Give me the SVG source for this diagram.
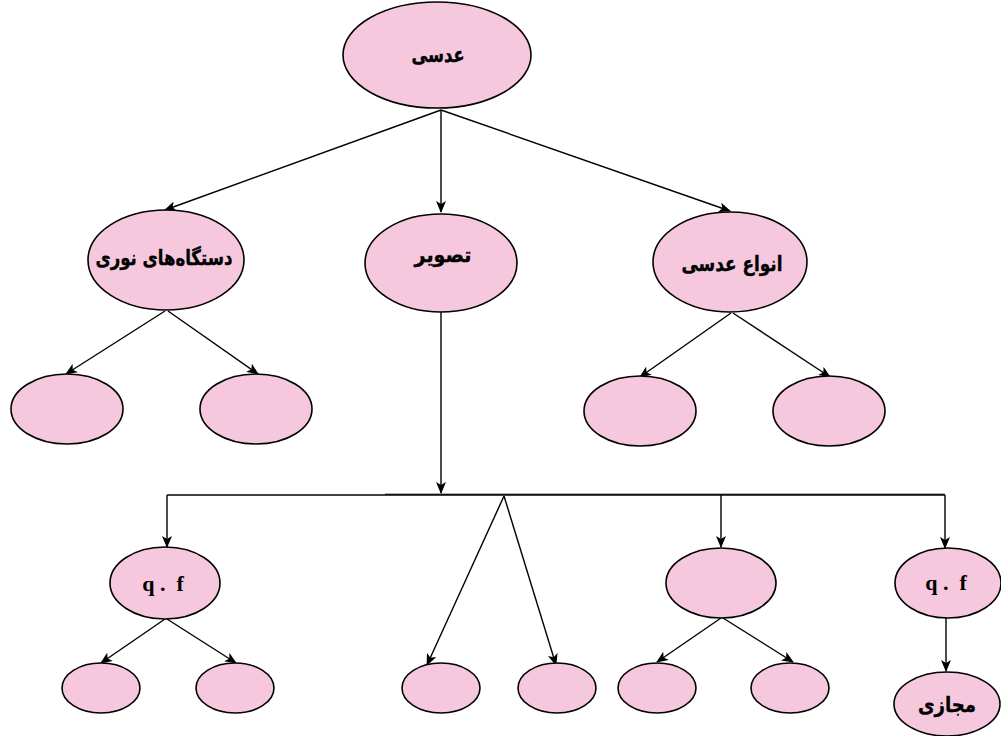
<svg xmlns="http://www.w3.org/2000/svg" width="1001" height="736" viewBox="0 0 1001 736">
  <defs>
    <marker id="arrow" viewBox="0 0 12 10" refX="11" refY="5" markerWidth="12" markerHeight="10" markerUnits="userSpaceOnUse" orient="auto">
      <path d="M0,0 L12,5 L0,10 L3,5 Z" fill="#000"/>
    </marker>
    <style>
      .node ellipse { fill: #f6c8dd; stroke: #000; stroke-width: 1.6; }
      .fa { font-family: "DejaVu Sans", sans-serif; font-weight: bold; font-size: 21px; fill: #000; text-anchor: middle; dominant-baseline: central; stroke: #000; stroke-width: 0.4; }
      .lat { font-family: "Liberation Serif", serif; font-weight: bold; font-size: 22px; fill: #000; text-anchor: middle; dominant-baseline: central; }
      .edges line { stroke: #000; stroke-width: 1.4; fill: none; }
      .arr { marker-end: url(#arrow); }
    </style>
  </defs>

  <rect width="1001" height="736" fill="#fff"/>

  <!-- connectors -->
  <g class="edges">
    <line class="arr" x1="441" y1="110" x2="165" y2="210"/>
    <line class="arr" x1="441" y1="110" x2="441" y2="212"/>
    <line class="arr" x1="441" y1="110" x2="730" y2="211"/>

    <line class="arr" x1="165" y1="311" x2="66" y2="374"/>
    <line class="arr" x1="168" y1="311" x2="258" y2="374"/>

    <line class="arr" x1="731" y1="313" x2="640" y2="377"/>
    <line class="arr" x1="733" y1="313" x2="830" y2="377"/>

    <line class="arr" x1="441" y1="312" x2="441" y2="493"/>
    <line x1="167" y1="495" x2="945" y2="495"/>
    <line x1="385" y1="494.2" x2="945" y2="494.2" style="stroke-width:1"/>

    <line class="arr" x1="167" y1="495" x2="167" y2="547"/>
    <line class="arr" x1="504" y1="496" x2="427" y2="665"/>
    <line class="arr" x1="504" y1="496" x2="556" y2="665"/>
    <line class="arr" x1="721" y1="495" x2="721" y2="547"/>
    <line class="arr" x1="945" y1="495" x2="945" y2="548"/>

    <line class="arr" x1="165" y1="619" x2="101" y2="663"/>
    <line class="arr" x1="167" y1="619" x2="236" y2="663"/>

    <line class="arr" x1="721" y1="618" x2="657" y2="662"/>
    <line class="arr" x1="723" y1="618" x2="793" y2="662"/>

    <line class="arr" x1="946" y1="617" x2="946" y2="671"/>
  </g>

  <!-- root -->
  <g id="n-lens" class="node">
    <ellipse cx="437" cy="55" rx="94" ry="53"/>
    <text class="fa" x="438" y="55" font-size="24" textLength="53" lengthAdjust="spacingAndGlyphs">عدسی</text>
  </g>

  <!-- second level -->
  <g id="n-devices" class="node">
    <ellipse cx="166" cy="260" rx="78" ry="50"/>
    <text class="fa" x="164" y="258" textLength="137" lengthAdjust="spacingAndGlyphs">دستگاه‌های نوری</text>
  </g>
  <g id="n-image" class="node">
    <ellipse cx="441" cy="263" rx="76" ry="49"/>
    <text class="fa" x="443" y="255" textLength="57" lengthAdjust="spacingAndGlyphs">تصویر</text>
  </g>
  <g id="n-types" class="node">
    <ellipse cx="730" cy="262" rx="77" ry="50"/>
    <text class="fa" x="732" y="264" textLength="101" lengthAdjust="spacingAndGlyphs">انواع عدسی</text>
  </g>

  <!-- children of optical devices -->
  <g id="n-dev-a" class="node"><ellipse cx="67" cy="409" rx="56" ry="35"/></g>
  <g id="n-dev-b" class="node"><ellipse cx="256" cy="409" rx="56" ry="35"/></g>

  <!-- children of lens types -->
  <g id="n-type-a" class="node"><ellipse cx="640" cy="411" rx="56" ry="35"/></g>
  <g id="n-type-b" class="node"><ellipse cx="829" cy="411" rx="56" ry="35"/></g>

  <!-- image branches -->
  <g id="n-qf-left" class="node">
    <ellipse cx="165" cy="583" rx="55" ry="36"/>
    <text class="lat" x="163" y="583" xml:space="preserve">q .  f</text>
  </g>
  <g id="n-mid" class="node"><ellipse cx="721" cy="583" rx="55" ry="35"/></g>
  <g id="n-qf-right" class="node">
    <ellipse cx="948" cy="583" rx="53" ry="35"/>
    <text class="lat" x="946" y="582" xml:space="preserve">q .  f</text>
  </g>

  <!-- bottom row -->
  <g id="n-b1" class="node"><ellipse cx="101" cy="688" rx="39" ry="25"/></g>
  <g id="n-b2" class="node"><ellipse cx="235" cy="688" rx="39" ry="25"/></g>
  <g id="n-b3" class="node"><ellipse cx="441" cy="688" rx="39" ry="25"/></g>
  <g id="n-b4" class="node"><ellipse cx="557" cy="688" rx="39" ry="25"/></g>
  <g id="n-b5" class="node"><ellipse cx="657" cy="688" rx="39" ry="25"/></g>
  <g id="n-b6" class="node"><ellipse cx="790" cy="688" rx="39" ry="25"/></g>
  <g id="n-virtual" class="node">
    <ellipse cx="947" cy="704" rx="53" ry="32"/>
    <text class="fa" x="947" y="705" textLength="58" lengthAdjust="spacingAndGlyphs">مجازی</text>
  </g>
</svg>
